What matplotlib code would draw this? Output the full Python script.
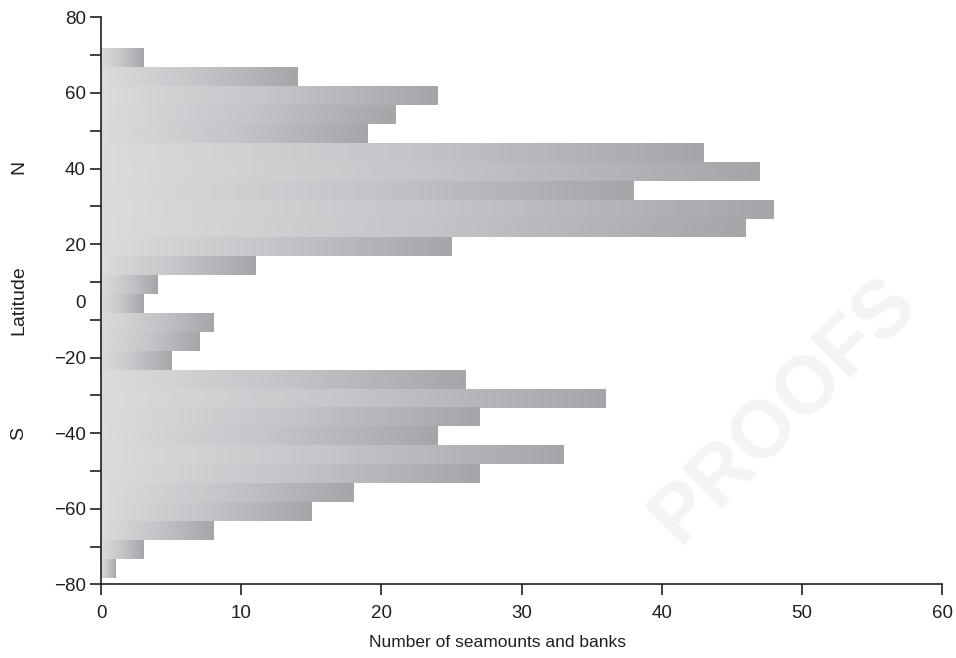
import numpy as np
import matplotlib.pyplot as plt
from matplotlib.colors import LinearSegmentedColormap

# counts per 5-degree latitude band, listed from north (top) to south (bottom)
counts = [3, 14, 24, 21, 19, 43, 47, 38, 48, 46, 25, 11, 4, 3,
          8, 7, 5, 26, 36, 27, 24, 33, 27, 18, 15, 8, 3, 1]
# band centres on the drawn latitude axis
band_centres = np.arange(69.25, -66, -5)
band_height = 5

ytick_pos = np.arange(80, -71, -10)
ytick_labels = ['80', '', '60', '', '40', '', '20', '', '', '\u221220', '',
                '\u221240', '', '\u221260', '', '\u221280']
xticks = [0, 10, 20, 30, 40, 50, 60]

plt.rcParams['font.family'] = ['Liberation Sans', 'DejaVu Sans']
ink = '#231f20'

fig = plt.figure(figsize=(9.56, 6.58), dpi=100)
ax = fig.add_axes([0.1057, 0.112, 0.8797, 0.8617])

cmap = LinearSegmentedColormap.from_list('bar_grey', ['#dadbdd', '#c4c5c8', '#a5a6aa'])
grad = np.linspace(0, 1, 256).reshape(1, -1)

for c, n in zip(band_centres, counts):
    ax.imshow(grad, extent=(0, n, c - band_height / 2, c + band_height / 2),
              aspect='auto', cmap=cmap, interpolation='bilinear', zorder=2)

ax.set_xlim(0, 60)
ax.set_ylim(-70, 80)
ax.set_xticks(xticks)
ax.set_yticks(ytick_pos, labels=ytick_labels)
# the "0" label sits between two ticks in the original figure
ax.set_yticks([4.7], labels=['0'], minor=True)

for side in ['top', 'right']:
    ax.spines[side].set_visible(False)
for side in ['left', 'bottom']:
    ax.spines[side].set_linewidth(1.2)
    ax.spines[side].set_color(ink)
ax.tick_params(axis='both', which='major', length=8, width=1.2, color=ink,
               labelsize=13.5, labelcolor=ink, pad=3)
ax.tick_params(axis='x', which='major', pad=7)
ax.tick_params(axis='y', which='minor', length=0, pad=11, labelsize=13.5, labelcolor=ink)

ax.set_xlabel('Number of seamounts and banks', fontsize=12.5, color=ink, labelpad=9)
ax.xaxis.label.set_x(0.471)

fig.text(0.02, 1 - 300 / 658, 'Latitude', rotation=90, fontsize=14, color=ink,
         ha='center', va='center')
fig.text(0.02, 1 - 167 / 658, 'N', rotation=90, fontsize=14, color=ink,
         ha='center', va='center')
fig.text(0.02, 1 - 433 / 658, 'S', rotation=90, fontsize=14, color=ink,
         ha='center', va='center')

# faint proof watermark
fig.text(0.82, 1 - 410 / 658, 'PROOFS', rotation=45, fontsize=58, fontweight='bold',
         color='#f4f4f4', ha='center', va='center', zorder=0)

fig.savefig('out.png', dpi=100)
